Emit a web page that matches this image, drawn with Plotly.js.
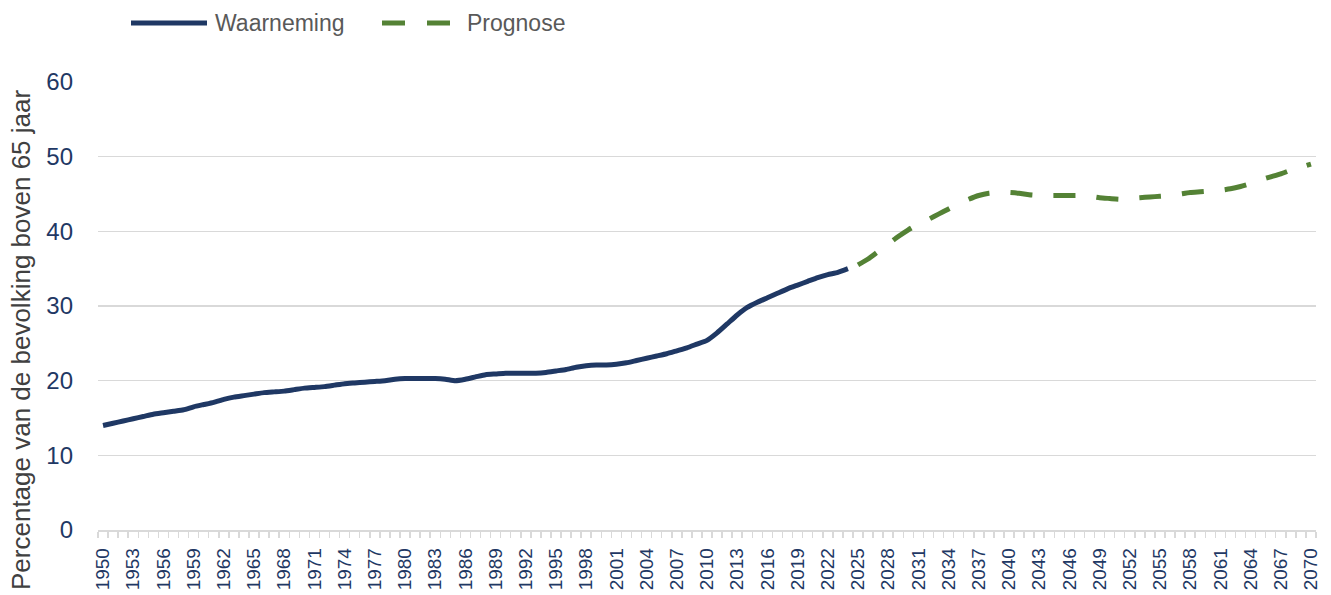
<!DOCTYPE html>
<html>
<head>
<meta charset="utf-8">
<script src="https://cdn.plot.ly/plotly-3.0.1.min.js"></script>
<style>
  html, body { margin: 0; padding: 0; background: #ffffff; }
  #chart { width: 1331px; height: 595px; }
</style>
</head>
<body>
<div id="chart"></div>
<script>
// Observed years and values (Waarneming)
const yearsObserved = [
  1950,1951,1952,1953,1954,1955,1956,1957,1958,1959,
  1960,1961,1962,1963,1964,1965,1966,1967,1968,1969,
  1970,1971,1972,1973,1974,1975,1976,1977,1978,1979,
  1980,1981,1982,1983,1984,1985,1986,1987,1988,1989,
  1990,1991,1992,1993,1994,1995,1996,1997,1998,1999,
  2000,2001,2002,2003,2004,2005,2006,2007,2008,2009,
  2010,2011,2012,2013,2014,2015,2016,2017,2018,2019,
  2020,2021,2022,2023,2024
];
const valuesObserved = [
  14.0,14.3,14.6,14.9,15.2,15.5,15.7,15.9,16.1,16.5,
  16.8,17.1,17.5,17.8,18.0,18.2,18.4,18.5,18.6,18.8,
  19.0,19.1,19.2,19.4,19.6,19.7,19.8,19.9,20.0,20.2,
  20.3,20.3,20.3,20.3,20.2,20.0,20.2,20.5,20.8,20.9,
  21.0,21.0,21.0,21.0,21.1,21.3,21.5,21.8,22.0,22.1,
  22.1,22.2,22.4,22.7,23.0,23.3,23.6,24.0,24.4,24.9,
  25.4,26.4,27.6,28.8,29.8,30.5,31.1,31.7,32.3,32.8,
  33.3,33.8,34.2,34.5,35.0
];

// Projection years and values (Prognose)
const yearsForecast = [
  2025,2026,2027,2028,2029,2030,2031,2032,2033,2034,
  2035,2036,2037,2038,2039,2040,2041,2042,2043,2044,
  2045,2046,2047,2048,2049,2050,2051,2052,2053,2054,
  2055,2056,2057,2058,2059,2060,2061,2062,2063,2064,
  2065,2066,2067,2068,2069,2070
];
const valuesForecast = [
  35.5,36.3,37.3,38.3,39.3,40.2,41.0,41.6,42.3,43.0,
  43.7,44.3,44.8,45.1,45.2,45.2,45.1,44.9,44.8,44.8,
  44.8,44.8,44.8,44.7,44.5,44.4,44.3,44.4,44.5,44.6,
  44.7,44.8,45.0,45.2,45.3,45.4,45.5,45.7,46.0,46.4,
  46.9,47.3,47.7,48.2,48.6,49.0
];

// Tick labels on the x axis (every third year)
const tickYears = [
  1950,1953,1956,1959,1962,1965,1968,1971,1974,1977,1980,1983,1986,1989,
  1992,1995,1998,2001,2004,2007,2010,2013,2016,2019,2022,2025,2028,2031,
  2034,2037,2040,2043,2046,2049,2052,2055,2058,2061,2064,2067,2070
];
const yTicks = [0,10,20,30,40,50,60];

const seriesNames = ['Waarneming', 'Prognose'];
const seriesColors = ['#1f3864', '#548235'];
const yTitle = 'Percentage van de bevolking boven 65 jaar';

const W = 1331, H = 595;
const M = { l: 98, r: 15, t: 82, b: 65 };
const plotW = W - M.l - M.r, plotH = H - M.t - M.b;
// helpers to place legend/title decorations (pixel -> paper fraction)
const px = v => (v - M.l) / plotW;
const py = v => (H - M.b - v) / plotH;

const traces = [
  {
    x: yearsObserved, y: valuesObserved, name: seriesNames[0],
    type: 'scatter', mode: 'lines',
    line: { color: seriesColors[0], width: 5, shape: 'spline', smoothing: 0.5 },
    hoverinfo: 'x+y'
  },
  {
    x: yearsForecast, y: valuesForecast, name: seriesNames[1],
    type: 'scatter', mode: 'lines',
    line: { color: seriesColors[1], width: 5, dash: '22px,21px', shape: 'spline', smoothing: 0.5 },
    hoverinfo: 'x+y'
  }
];

const legendY = 23;
const layout = {
  width: W, height: H,
  margin: M,
  paper_bgcolor: '#ffffff', plot_bgcolor: '#ffffff',
  font: { family: 'Liberation Sans, Arial, sans-serif', color: '#1f3864', size: 20 },
  showlegend: false,
  xaxis: {
    range: [1949.5, 2070.5], type: 'linear',
    tickmode: 'array', tickvals: tickYears, ticktext: tickYears.map(String),
    tickangle: -90, ticks: '', ticklabelstandoff: 9,
    showline: true, linecolor: '#d9d9d9', linewidth: 1.5,
    showgrid: false, zeroline: false,
    tickfont: { size: 19, color: '#1f3864' },
    minor: { tick0: 1949.5, dtick: 1, ticks: 'outside', ticklen: 6, tickcolor: '#d9d9d9', tickwidth: 1.5, showgrid: false }
  },
  yaxis: {
    range: [0, 60], tickmode: 'array', tickvals: yTicks, ticktext: yTicks.map(String),
    ticks: '', ticklabelstandoff: 24,
    showgrid: true, gridcolor: '#d9d9d9', gridwidth: 1.5,
    zeroline: false, showline: false,
    tickfont: { size: 24, color: '#1f3864' }
  },
  shapes: [
    { type: 'line', xref: 'paper', yref: 'paper', x0: px(131), x1: px(207), y0: py(legendY), y1: py(legendY),
      line: { color: seriesColors[0], width: 5 } },
    { type: 'line', xref: 'paper', yref: 'paper', x0: px(382), x1: px(450), y0: py(legendY), y1: py(legendY),
      line: { color: seriesColors[1], width: 5, dash: '23px,22px' } }
  ],
  annotations: [
    { xref: 'paper', yref: 'paper', x: px(213), y: py(legendY), xanchor: 'left', yanchor: 'middle',
      text: seriesNames[0], showarrow: false, font: { size: 23, color: '#595959' } },
    { xref: 'paper', yref: 'paper', x: px(465), y: py(legendY), xanchor: 'left', yanchor: 'middle',
      text: seriesNames[1], showarrow: false, font: { size: 23, color: '#595959' } },
    { xref: 'paper', yref: 'paper', x: px(21), y: py(340), xanchor: 'center', yanchor: 'middle',
      textangle: -90, text: yTitle, showarrow: false, font: { size: 26, color: '#404040' } }
  ]
};

Plotly.newPlot('chart', traces, layout, { displayModeBar: false, staticPlot: true });
</script>
</body>
</html>
